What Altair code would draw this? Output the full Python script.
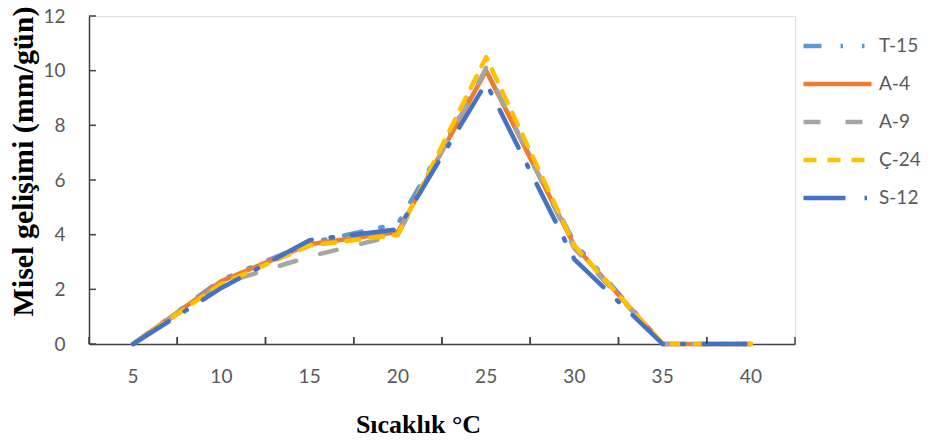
import altair as alt
import pandas as pd

temps = [5, 10, 15, 20, 25, 30, 35, 40]
series = ["T-15", "A-4", "A-9", "Ç-24", "S-12"]
t15 = [0, 2.35, 3.7, 4.4, 10.0, 3.7, 0, 0]
a4 = [0, 2.3, 3.65, 4.1, 10.0, 3.6, 0, 0]
a9 = [0, 2.2, 3.2, 4.0, 10.1, 3.5, 0, 0]
c24 = [0, 2.2, 3.6, 4.0, 10.5, 3.6, 0, 0]
s12 = [0, 2.05, 3.8, 4.2, 9.55, 3.1, 0, 0]
y_ticks = [0, 2, 4, 6, 8, 10, 12]

colors = ["#5B9BD5", "#ED7D31", "#A5A5A5", "#FFC000", "#4472C4"]
dashes = [[18, 19, 2.5, 19, 2.5, 19], [1, 0], [17, 25], [13, 11], [42, 19, 2.5, 19]]

rows = []
for name, vals in zip(series, [t15, a4, a9, c24, s12]):
    for t, v in zip(temps, vals):
        rows.append({"t": t, "v": v, "series": name})
df = pd.DataFrame(rows)
df_t = pd.DataFrame({"t": temps})
df_y = pd.DataFrame({"v": y_ticks})

W, H = 706, 328
LABEL_FONT = "Lato"
TITLE_FONT = "Liberation Serif"
GRAY = "#595959"
AXIS = "#404040"

xscale = alt.Scale(type="band", paddingInner=0, paddingOuter=0, domain=temps)
yscale = alt.Scale(domain=[0, 12], nice=False, zero=True)

lines = alt.Chart(df).mark_line(strokeWidth=4.5, strokeCap="round", strokeJoin="round").encode(
    x=alt.X("t:O", bandPosition=0.5, scale=xscale,
            axis=alt.Axis(title="Sıcaklık °C", ticks=False, labelAngle=0,
                          labelFont=LABEL_FONT, labelFontSize=19, labelColor=GRAY,
                          labelBaseline="alphabetic", labelPadding=38,
                          domainColor=AXIS, domainWidth=1.5,
                          titleFont=TITLE_FONT, titleFontSize=26, titleFontWeight="bold",
                          titleColor="#000000", titleX=329, titleY=88,
                          titleBaseline="alphabetic", titleAnchor="start", titleAlign="center")),
    y=alt.Y("v:Q", scale=yscale,
            axis=alt.Axis(title="Misel gelişimi (mm/gün)", values=y_ticks, ticks=False, grid=False,
                          labelFont=LABEL_FONT, labelFontSize=19, labelColor=GRAY,
                          labelPadding=24,
                          domainColor=AXIS, domainWidth=1.5,
                          titleFont=TITLE_FONT, titleFontSize=30, titleFontWeight="bold",
                          titleColor="#000000", titleX=-57, titleY=145, titleAngle=-90,
                          titleBaseline="alphabetic", titleAlign="center")),
    color=alt.Color("series:N", sort=series, scale=alt.Scale(domain=series, range=colors),
                    legend=alt.Legend(title=None, orient="none", legendX=712, legendY=18,
                                      symbolType="stroke", symbolSize=4624, symbolStrokeWidth=4.5,
                                      labelFont=LABEL_FONT, labelFontSize=19, labelColor=GRAY,
                                      labelOffset=5, clipHeight=24, rowPadding=14)),
    strokeDash=alt.StrokeDash("series:N", sort=series,
                              scale=alt.Scale(domain=series, range=dashes)),
    order=alt.Order("t:Q"),
)

xticks_left = alt.Chart(df_t).mark_rule(color=AXIS, strokeWidth=1.5).encode(
    x=alt.X("t:O", bandPosition=0, scale=xscale),
    y=alt.value(H - 7), y2=alt.value(H),
)
xticks_right = alt.Chart(df_t).mark_rule(color=AXIS, strokeWidth=1.5).encode(
    x=alt.X("t:O", bandPosition=1, scale=xscale),
    y=alt.value(H - 7), y2=alt.value(H),
)
yticks = alt.Chart(df_y).mark_rule(color=AXIS, strokeWidth=1.5).encode(
    y=alt.Y("v:Q", scale=yscale),
    x=alt.value(0), x2=alt.value(7),
)

chart = alt.layer(lines, xticks_left, xticks_right, yticks).properties(
    width=W, height=H,
    autosize=alt.AutoSizeParams(type="none"),
    padding={"left": 89, "top": 16, "right": 136, "bottom": 96},
).configure_view(stroke=None).configure(background="white")

chart.save("out.html", embed_options={"renderer": "svg", "actions": False})
